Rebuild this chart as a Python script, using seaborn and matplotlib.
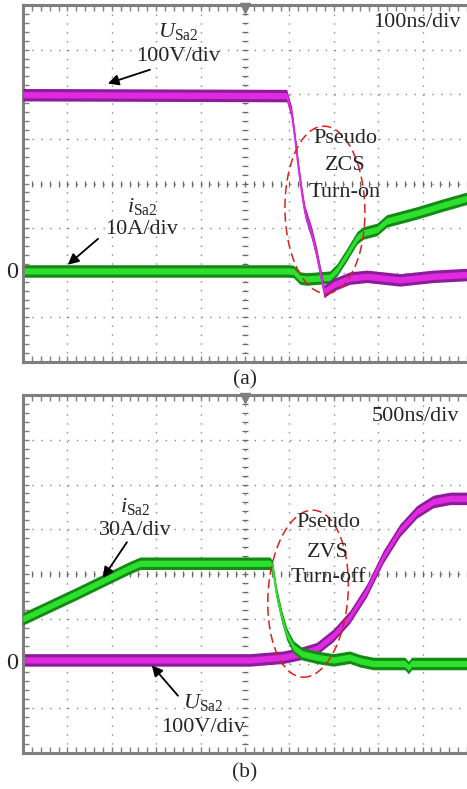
import numpy as np
import pandas as pd
import matplotlib
matplotlib.use("Agg")
import matplotlib.pyplot as plt
from matplotlib.patches import Ellipse
import seaborn as sns

# ---------------- data (in oscilloscope divisions; zero level = 0) ----------------
# panel (a): 100 ns/div
a_u_t = [0.0, 5.94, 6.05, 6.13, 6.20, 6.28, 6.35, 6.50, 6.61, 6.73, 6.78, 6.99, 7.36, 7.74, 8.49, 9.24, 10.0]
a_u_v = [3.99, 3.97, 3.58, 2.98, 2.38, 1.79, 1.36, 0.89, 0.44, -0.16, -0.42, -0.27, -0.12, -0.08, -0.16, -0.08, -0.04]
a_i_t = [0.0, 5.98, 6.09, 6.24, 6.39, 6.91, 7.07, 7.29, 7.52, 7.66, 7.97, 8.19, 8.87, 9.47, 10.0]
a_i_v = [0.04, 0.04, 0.03, -0.12, -0.14, -0.10, 0.06, 0.40, 0.78, 0.89, 0.97, 1.16, 1.34, 1.52, 1.67]
# panel (b): 500 ns/div
b_i_t = [0.0, 1.20, 2.40, 2.64, 5.56, 5.62, 5.71, 5.83, 5.94, 6.09, 6.28, 6.61, 6.99, 7.36, 7.59, 7.89, 8.60, 8.68, 8.75, 10.0]
b_i_v = [1.00, 1.56, 2.14, 2.24, 2.24, 2.16, 1.56, 1.04, 0.66, 0.37, 0.22, 0.14, 0.08, 0.14, 0.06, 0.00, 0.00, -0.09, 0.00, 0.00]
b_u_t = [0.0, 5.11, 5.86, 6.24, 6.61, 6.99, 7.36, 7.74, 8.11, 8.49, 8.87, 9.24, 9.62, 10.0]
b_u_v = [0.08, 0.08, 0.14, 0.22, 0.33, 0.63, 1.04, 1.63, 2.38, 2.98, 3.39, 3.62, 3.69, 3.69]

a_timebase = "100ns/div"
b_timebase = "500ns/div"
u_label = r"$U_{\mathrm{Sa2}}$"
i_label = r"$i_{\mathrm{Sa2}}$"
a_u_scale, a_i_scale = "100V/div", "10A/div"
b_u_scale, b_i_scale = "100V/div", "30A/div"
a_note = ["Pseudo", "ZCS", "Turn-on"]
b_note = ["Pseudo", "ZVS", "Turn-off"]

# ---------------- style ----------------
sns.set_theme(style="white")
plt.rcParams["font.family"] = ["Liberation Serif", "DejaVu Serif"]
plt.rcParams["mathtext.fontset"] = "custom"
plt.rcParams["mathtext.rm"] = "Liberation Serif"
plt.rcParams["mathtext.it"] = "Liberation Serif:italic"

GRAY = "#7f7f7f"
PUR_D, PUR_B = "#8c1c9c", "#e02ae0"
GRN_D, GRN_B = "#138a13", "#2ee02e"
RED = "#e0201a"
FS = 16

fig = plt.figure(figsize=(4.67, 7.89), dpi=100)
axA = fig.add_axes([23 / 467, 1 - 362 / 789, 444 / 467, 357 / 789])
axB = fig.add_axes([23 / 467, 1 - 753 / 789, 444 / 467, 358 / 789])


def scope(ax):
    ax.set_xlim(0, 10)
    ax.set_ylim(-2, 6)
    ax.set_xticks(np.arange(0, 10.001, 0.2))
    ax.set_yticks(np.arange(-2, 6.001, 0.2))
    ax.tick_params(axis="both", which="both", direction="in", length=4, width=1,
                   color=GRAY, top=True, bottom=True, left=True, right=False,
                   labelbottom=False, labelleft=False)
    for s in ["left", "top", "bottom"]:
        ax.spines[s].set_color(GRAY)
        ax.spines[s].set_linewidth(2.2)
    ax.spines["right"].set_visible(False)
    ax.set_xlabel("")
    ax.set_ylabel("")
    for x in range(1, 10):
        ax.axvline(x, color="#8a8a8a", lw=1.0, ls=(0, (1, 5.4)), zorder=0)
    for y in range(-1, 6):
        ax.axhline(y, color="#8a8a8a", lw=1.0, ls=(0, (1, 5.4)), zorder=0)
    # center cross ticks
    ax.plot(np.arange(0, 10.001, 0.2), np.full(51, 2.0), ls="", marker="|",
            ms=5, mew=0.9, color="#6a6a6a", zorder=0.5)
    ax.plot(np.full(41, 5.0), np.arange(-2, 6.001, 0.2), ls="", marker="_",
            ms=5, mew=0.9, color="#6a6a6a", zorder=0.5)
    ax.plot([5], [5.93], marker="v", ms=7, color=GRAY, clip_on=False, zorder=6)
    ax.text(-0.25, 0, "0", ha="center", va="center", fontsize=17.5, clip_on=False)


def trace(ax, t, v, dark, bright, z):
    t = np.asarray(t, float)
    v = np.asarray(v, float)
    ax.fill_between(t, v - 0.14, v + 0.14, color=dark, lw=0, zorder=z)
    ax.fill_between(t, v - 0.07, v + 0.07, color=bright, lw=0, zorder=z + 0.1)
    sns.lineplot(x=t, y=v, ax=ax, color=bright, lw=1.3, zorder=z + 0.2)


def arrow(ax, xy_from, xy_to):
    ax.annotate("", xy=xy_to, xytext=xy_from,
                arrowprops=dict(arrowstyle="-|>", color="black", lw=1.3,
                                mutation_scale=16, shrinkA=0, shrinkB=0), zorder=8)


# ---------------- panel (a) ----------------
scope(axA)
trace(axA, a_i_t, a_i_v, GRN_D, GRN_B, 2)
trace(axA, a_u_t, a_u_v, PUR_D, PUR_B, 3)
axA.add_patch(Ellipse((6.8, 1.41), 1.8, 3.75, angle=1, fill=False, ec=RED,
                      lw=1.1, ls=(0, (6, 3)), zorder=5))
axA.text(8.87, 5.6, a_timebase, ha="center", va="center", fontsize=FS, zorder=9)
axA.text(3.49, 5.4, u_label, ha="center", va="center", fontsize=FS, zorder=9)
axA.text(3.49, 4.84, a_u_scale, ha="center", va="center", fontsize=FS, zorder=9)
arrow(axA, (2.86, 4.55), (1.91, 4.24))
axA.text(2.68, 1.48, i_label, ha="center", va="center", fontsize=FS, zorder=9)
axA.text(2.68, 0.96, a_i_scale, ha="center", va="center", fontsize=FS, zorder=9)
arrow(axA, (1.69, 0.76), (1.01, 0.18))
for k, (s, y) in enumerate(zip(a_note, [3.0, 2.40, 1.79])):
    axA.text(7.25, y, s, ha="center", va="center", fontsize=FS, zorder=9)

# ---------------- panel (b) ----------------
scope(axB)
trace(axB, b_u_t, b_u_v, PUR_D, PUR_B, 2)
trace(axB, b_i_t, b_i_v, GRN_D, GRN_B, 3)
axB.add_patch(Ellipse((6.42, 1.56), 1.8, 3.74, angle=-4, fill=False, ec=RED,
                      lw=1.1, ls=(0, (6, 3)), zorder=5))
axB.text(8.83, 5.52, b_timebase, ha="center", va="center", fontsize=FS, zorder=9)
axB.text(2.52, 3.5, i_label, ha="center", va="center", fontsize=FS, zorder=9)
axB.text(2.52, 2.98, b_i_scale, ha="center", va="center", fontsize=FS, zorder=9)
arrow(axB, (2.34, 2.71), (1.80, 1.91))
for s, y in zip(b_note, [3.14, 2.49, 1.93]):
    axB.text(6.87, y, s, ha="center", va="center", fontsize=FS, zorder=9)
axB.text(4.05, -0.87, u_label, ha="center", va="center", fontsize=FS, zorder=9)
axB.text(4.05, -1.43, b_u_scale, ha="center", va="center", fontsize=FS, zorder=9)
arrow(axB, (3.49, -0.72), (2.90, -0.04))

fig.text(245 / 467, 1 - 380 / 789, "(a)", ha="center", va="center", fontsize=15.5)
fig.text(245 / 467, 1 - 773 / 789, "(b)", ha="center", va="center", fontsize=15.5)

fig.savefig("out.png", dpi=100, facecolor="white")
